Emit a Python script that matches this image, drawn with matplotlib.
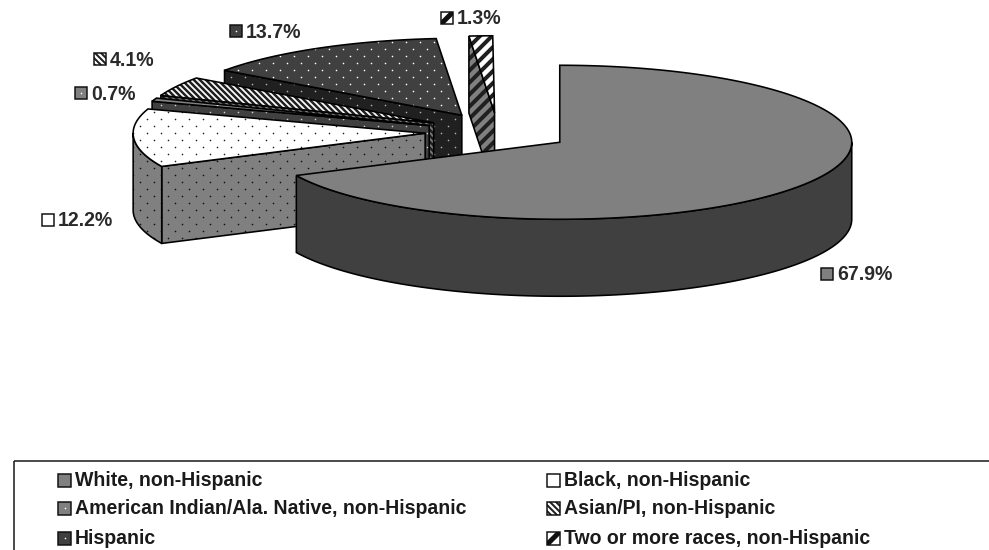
import numpy as np
import matplotlib
matplotlib.use('Agg')
import matplotlib.pyplot as plt
from matplotlib.patches import Polygon, Rectangle

plt.rcParams['font.family'] = ['Liberation Sans', 'DejaVu Sans']

groups = ['White, non-Hispanic', 'Black, non-Hispanic',
          'American Indian/Ala. Native, non-Hispanic', 'Asian/PI, non-Hispanic',
          'Hispanic', 'Two or more races, non-Hispanic']
shares = [67.9, 12.2, 0.7, 4.1, 13.7, 1.3]
share_labels = ['67.9%', '12.2%', '0.7%', '4.1%', '13.7%', '1.3%']

# (face, pattern colour, pattern, hatch linewidth); pattern 'dots' is a clipped scatter
top_styles = [('#808080', None, None, 1),
              ('#ffffff', '#202020', 'dots', 1),
              ('#808080', '#ffffff', 'dots', 1),
              ('#ffffff', '#202020', '\\\\\\\\', 2.5),
              ('#404040', '#ffffff', 'dots', 1),
              ('#ffffff', '#202020', '//', 4)]
wall_styles = [('#404040', None, None, 1),
               ('#808080', '#101010', 'dots', 1),
               ('#404040', '#d0d0d0', 'dots', 1),
               ('#808080', '#202020', '\\\\\\\\', 2.5),
               ('#202020', '#b0b0b0', 'dots', 1),
               ('#808080', '#202020', '//', 4)]

# pie geometry in pixels
cx, cy = 498, 132
rx, ry = 292, 77
depth = 77
explode = 0.25

fig = plt.figure(figsize=(989 / 72, 550 / 72), dpi=72)
ax = fig.add_axes([0, 0, 1, 1])
ax.set_xlim(0, 989)
ax.set_ylim(550, 0)
ax.axis('off')

# staggered dot texture shared by every dotted face
row_y = np.arange(0, 550, 7)
grid_x, grid_y = np.meshgrid(np.arange(0, 989, 14), row_y)
grid_x = grid_x + 7 * (np.arange(len(row_y)) % 2)[:, None]


def add_shape(xy, style, z):
    face, color, pattern, hatch_lw = style
    fill = Polygon(xy, closed=True, facecolor=face, edgecolor=color or face,
                   hatch=None if pattern == 'dots' else pattern, linewidth=0, zorder=z)
    fill.set_hatch_linewidth(hatch_lw)
    ax.add_patch(fill)
    if pattern == 'dots':
        dots = ax.scatter(grid_x.ravel(), grid_y.ravel(), s=2.6, marker='o', color=color,
                          linewidths=0, zorder=z + 0.05)
        dots.set_clip_path(fill)
    ax.add_patch(Polygon(xy, closed=True, fill=False, edgecolor='black',
                         linewidth=1.6, joinstyle='miter', zorder=z + 0.1))


def rim(x0, y0, a):
    return x0 + rx * np.sin(a), y0 - ry * np.cos(a)


edges = np.radians(np.cumsum([0] + shares) * 360 / 100)
slices = list(zip(edges[:-1], edges[1:], top_styles, wall_styles))

# painter's order: back slices first, the big slice last
order = [5, 4, 3, 2, 1, 0]
for z, i in enumerate(order):
    a1, a2, top, wall = slices[i]
    mid = (a1 + a2) / 2
    x0 = cx + explode * rx * np.sin(mid)
    y0 = cy - explode * ry * np.cos(mid)
    z0 = 2 + z * 2

    # radial wall on the leading edge, faces the viewer on the left half
    if np.sin(a1) < -1e-6:
        ex, ey = rim(x0, y0, a1)
        add_shape([(x0, y0), (ex, ey), (ex, ey + depth), (x0, y0 + depth)], wall, z0)

    # outer wall, only the front half of the rim shows
    lo, hi = max(a1, np.pi / 2), min(a2, 3 * np.pi / 2)
    if hi > lo:
        t = np.linspace(lo, hi, 120)
        xs, ys = rim(x0, y0, t)
        outer = np.column_stack([np.r_[xs, xs[::-1]], np.r_[ys, ys[::-1] + depth]])
        add_shape(outer, wall, z0 + 0.3)

    t = np.linspace(a1, a2, 200)
    xs, ys = rim(x0, y0, t)
    add_shape(np.column_stack([np.r_[x0, xs], np.r_[y0, ys]]), top, z0 + 0.6)


def swatch(x, y, style, size=12):
    face, color, pattern, hatch_lw = style
    box = Rectangle((x, y - size / 2), size, size, facecolor=face, linewidth=0, zorder=30)
    ax.add_patch(box)
    if pattern == 'dots':
        # the white swatch shows no dot at this size
        if face != '#ffffff':
            ax.scatter([x + size / 2], [y], s=2.6, color=color, linewidths=0, zorder=30.5)
    elif pattern == '//':
        stripe, = ax.plot([x, x + size], [y + size / 2, y - size / 2], color='#101010',
                          linewidth=5, solid_capstyle='butt', zorder=30.5)
        stripe.set_clip_path(box)
    elif pattern:
        box.set_hatch(pattern)
        box.set_edgecolor(color)
        box.set_hatch_linewidth(2)
    ax.add_patch(Rectangle((x, y - size / 2), size, size, fill=False, edgecolor='#101010',
                           linewidth=1.5, zorder=31))


# data labels
label_pos = [(821, 274), (42, 220), (75, 93), (94, 59), (230, 31), (441, 18)]
for (x, y), text, style in zip(label_pos, share_labels, top_styles):
    swatch(x, y, style)
    ax.text(x + 16, y + 1, text, fontsize=19.5, fontweight='bold', color='#2a2a2a',
            va='center', ha='left', zorder=32)

# legend box runs off the right and bottom edges
ax.add_patch(Rectangle((14, 461), 1000, 120, fill=False, edgecolor='#222222', linewidth=1.6, zorder=1))
legend_pos = [(58, 480), (547, 480), (58, 508), (547, 508), (58, 538), (547, 538)]
for (x, y), name, style in zip(legend_pos, groups, top_styles):
    swatch(x, y, style, size=13)
    ax.text(x + 17, y + 1, name, fontsize=19.5, fontweight='bold', color='#1a1a1a',
            va='center', ha='left', zorder=32)

fig.savefig('out.png', dpi=72, facecolor='white')
